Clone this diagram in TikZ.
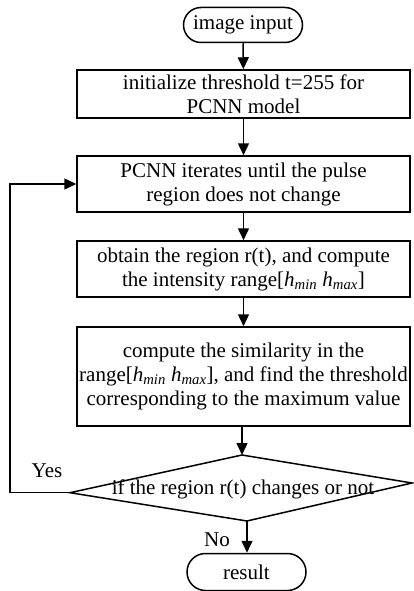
\documentclass[tikz,border=0pt]{standalone}
\usepackage{fontspec}
\setmainfont{Liberation Serif}
\usetikzlibrary{arrows.meta,shapes.misc}
\newcommand{\hsub}[1]{\textit{h}\textsubscript{\textit{#1}}}
\begin{document}
\begin{tikzpicture}[x=1pt,y=-1pt,
  line width=1.5pt,
  font=\fontsize{21}{24}\selectfont,
  flow/.style={-{Triangle[length=12pt,width=11pt]}},
  procbox/.style={draw, rectangle, minimum width=333pt, inner sep=0pt, align=center},
  term/.style={draw, rounded rectangle, inner sep=0pt, minimum width=119pt, minimum height=35pt},
  tag/.style={inner sep=0pt}
]
\useasboundingbox (0,0) rectangle (414,591);

% terminals and process steps
\node[term] (start) at (243,25) {image input};
\node[procbox, minimum height=48pt] (init) at (243.5,94)
  {initialize threshold t=255 for\\PCNN model};
\node[procbox, minimum height=56pt] (iter) at (243.5,184)
  {PCNN iterates until the pulse\\region does not change};
\node[procbox, minimum height=56pt] (range) at (243.5,269)
  {obtain the region r(t), and compute\\the intensity range[\hsub{min} \hsub{max}]};
\node[procbox, minimum height=99pt] (sim) at (243.5,376.5)
  {compute the similarity in the\\range[\hsub{min} \hsub{max}], and find the threshold\\corresponding to the maximum value};

% decision (slightly skewed rhombus)
\coordinate (dT) at (242,455);
\coordinate (dR) at (412,483);
\coordinate (dB) at (247,521);
\coordinate (dL) at (70,492.7);
\draw (dT) -- (dR) -- (dB) -- (dL) -- cycle;
\node[tag] (dtext) at (243,489) {if the region r(t) changes or not};

\node[term, minimum width=119pt, minimum height=37pt] (result) at (246.5,572) {result};

% connectors
\draw[flow] (start) -- (init);
\draw[flow] (init) -- (iter);
\draw[flow] (iter) -- (range);
\draw[flow] (range) -- (sim);
\draw[flow] (sim.south -| dT) -- (dT);
\draw[flow] (dB) -- (result.north -| dB);
\draw[flow] (dL) -- (10,492.7) |- (iter.west);

% branch labels
\node[tag] (yes) at (47,471) {Yes};
\node[tag] (no) at (217,540) {No};
\end{tikzpicture}
\end{document}
